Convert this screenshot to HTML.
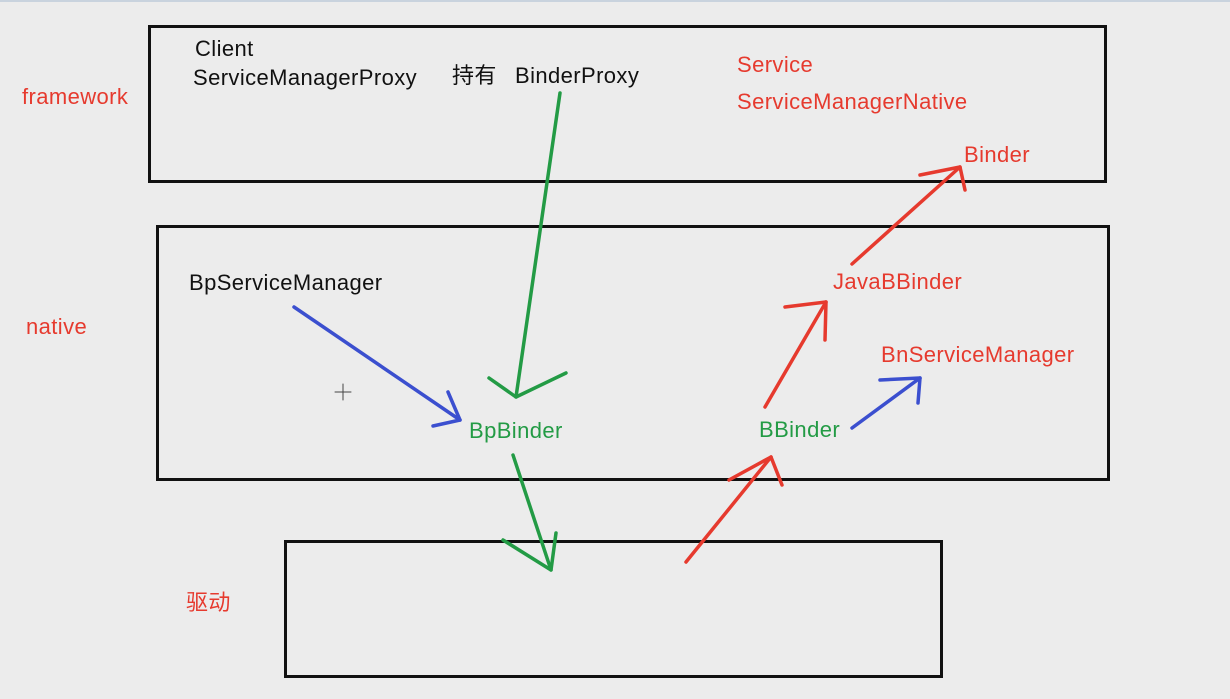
<!DOCTYPE html>
<html><head><meta charset="utf-8"><style>
html,body{margin:0;padding:0;}
body{width:1230px;height:699px;background:#ececec;position:relative;overflow:hidden;font-family:"Liberation Sans","Noto Sans CJK SC",sans-serif;}
.t{position:absolute;font-size:22px;letter-spacing:0.4px;line-height:24px;white-space:nowrap;}
.k{color:#111;}.r{color:#e63a2e;}.g{color:#239b45;}
.box{position:absolute;border:3px solid #111;box-sizing:border-box;}
</style></head><body>
<div style="position:absolute;left:0;top:0;width:1230px;height:2px;background:#c9d3de"></div>
<div class="box" style="left:148px;top:25px;width:959px;height:158px"></div>
<div class="box" style="left:156px;top:225px;width:954px;height:256px"></div>
<div class="box" style="left:284px;top:540px;width:659px;height:138px"></div>
<svg width="1230" height="699" style="position:absolute;left:0;top:0" fill="none" stroke-width="3.5" stroke-linecap="round" stroke-linejoin="round">
<g stroke="#239b45">
<path d="M560 93 L516 397"/><path d="M489 378 L516 397 L566 373"/>
<path d="M513 455 L551 570"/><path d="M503 540 L551 570 L556 533"/>
</g>
<g stroke="#3b4fcf">
<path d="M294 307 L460 420"/><path d="M433 426 L460 420 L448 392"/>
<path d="M852 428 L920 378"/><path d="M880 380 L920 378 L918 403"/>
</g>
<g stroke="#e63a2e">
<path d="M686 562 L771 457"/><path d="M729 480 L771 457 L782 485"/>
<path d="M765 407 L826 302"/><path d="M785 307 L826 302 L825 340"/>
<path d="M852 264 L960 167"/><path d="M920 175 L960 167 L965 190"/>
</g>
<g stroke="#444" stroke-width="1"><path d="M343 384 V400 M335 392 H351"/></g>
</svg>
<div class="t k" style="left:195px;top:37px">Client</div>
<div class="t k" style="left:193px;top:66px">ServiceManagerProxy</div>
<div class="t k" style="left:452px;top:64px">持有</div>
<div class="t k" style="left:515px;top:64px">BinderProxy</div>
<div class="t r" style="left:737px;top:53px">Service</div>
<div class="t r" style="left:737px;top:90px">ServiceManagerNative</div>
<div class="t r" style="left:964px;top:143px">Binder</div>
<div class="t r" style="left:22px;top:85px">framework</div>
<div class="t r" style="left:26px;top:315px">native</div>
<div class="t k" style="left:189px;top:271px">BpServiceManager</div>
<div class="t r" style="left:833px;top:270px">JavaBBinder</div>
<div class="t r" style="left:881px;top:343px">BnServiceManager</div>
<div class="t g" style="left:469px;top:419px">BpBinder</div>
<div class="t g" style="left:759px;top:418px">BBinder</div>
<div class="t r" style="left:186px;top:591px">驱动</div>
</body></html>
